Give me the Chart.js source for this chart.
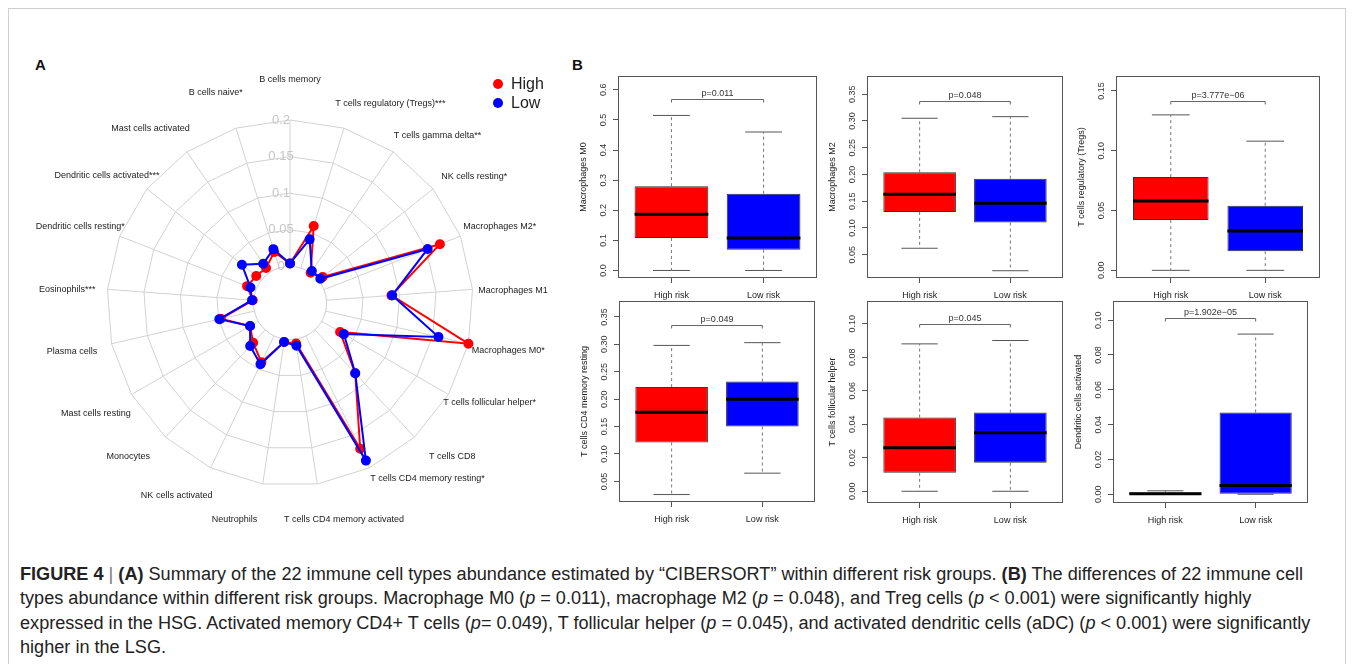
<!DOCTYPE html>
<html>
<head>
<meta charset="utf-8">
<title>Immune cell abundance by risk group</title>
<script src="https://cdn.jsdelivr.net/npm/chart.js@4.4.1/dist/chart.umd.min.js"></script>
<style>
  html, body { margin: 0; padding: 0; background: #fff; }
  body { width: 1352px; height: 664px; position: relative; overflow: hidden;
         font-family: 'Liberation Sans', Arial, Helvetica, sans-serif; }
  #border { position: absolute; left: 8px; top: 8px; width: 1336px; height: 700px;
            border: 1px solid #cfcfcf; }
  canvas { position: absolute; }
  .tag { position: absolute; font-weight: bold; font-size: 15px; color: #111; }
  #caption { position: absolute; left: 20px; top: 562px; color: #222; white-space: nowrap;
             font-family: 'Liberation Sans', Arial, sans-serif;
             font-size: 18px; line-height: 24.3px; transform-origin: 0 0; }
  #caption .sep { color: #777; font-weight: normal; }
</style>
</head>
<body>
<div id="border"></div>
<div class="tag" style="left:35px;top:56px;">A</div>
<div class="tag" style="left:572px;top:56px;">B</div>
<canvas id="radar" width="560" height="530" style="left:0px;top:30px;width:560px;height:530px;"></canvas>
<canvas id="box0"></canvas>
<canvas id="box1"></canvas>
<canvas id="box2"></canvas>
<canvas id="box3"></canvas>
<canvas id="box4"></canvas>
<canvas id="box5"></canvas>
<div id="caption">
  <div><b>FIGURE 4</b> <span class="sep">|</span> <b>(A)</b> Summary of the 22 immune cell types abundance estimated by “CIBERSORT” within different risk groups. <b>(B)</b> The differences of 22 immune cell</div>
  <div>types abundance within different risk groups. Macrophage M0 (<i>p</i> = 0.011), macrophage M2 (<i>p</i> = 0.048), and Treg cells (<i>p</i> &lt; 0.001) were significantly highly</div>
  <div>expressed in the HSG. Activated memory CD4+ T cells (<i>p</i>= 0.049), T follicular helper (<i>p</i> = 0.045), and activated dendritic cells (aDC) (<i>p</i> &lt; 0.001) were significantly</div>
  <div>higher in the LSG.</div>
</div>

<script>
// ---------- Panel A: mean CIBERSORT fractions per risk group ----------
const cellTypes = [
  'B cells memory', 'T cells regulatory (Tregs)***', 'T cells gamma delta**', 'NK cells resting*',
  'Macrophages M2*', 'Macrophages M1', 'Macrophages M0*', 'T cells follicular helper*',
  'T cells CD8', 'T cells CD4 memory resting*', 'T cells CD4 memory activated', 'Neutrophils',
  'NK cells activated', 'Monocytes', 'Mast cells resting', 'Plasma cells', 'Eosinophils***',
  'Dendritic cells resting*', 'Dendritic cells activated***', 'Mast cells activated', 'B cells naive*'
];
const highRiskMean = [0.004, 0.060, 0.000, 0.007, 0.170, 0.089, 0.200, 0.029, 0.081, 0.171, 0.006,
                      0.004, 0.040, 0.024, 0.013, 0.047, 0.001, 0.013, 0.009, 0.008, 0.023];
const lowRiskMean  = [0.004, 0.041, 0.003, 0.003, 0.152, 0.090, 0.158, 0.035, 0.081, 0.189, 0.009,
                      0.004, 0.043, 0.030, 0.013, 0.049, 0.002, 0.008, 0.034, 0.015, 0.027];
const radialTicks = ['0', '0.05', '0.1', '0.15', '0.2'];
const groupNames = ['High', 'Low'];

// ---------- Panel B: box summaries [min, Q1, median, Q3, max] ----------
const boxCells = ['Macrophages M0', 'Macrophages M2', 'T cells regulatory (Tregs)',
                  'T cells CD4 memory resting', 'T cells follicular helper', 'Dendritic cells activated'];
const riskGroups = ['High risk', 'Low risk'];
const highRiskBox = [
  [0.000, 0.108, 0.187, 0.280, 0.515],
  [0.062, 0.130, 0.163, 0.204, 0.305],
  [0.000, 0.042, 0.058, 0.078, 0.130],
  [0.026, 0.121, 0.176, 0.222, 0.298],
  [0.000, 0.011, 0.026, 0.044, 0.088],
  [0.000, 0.000, 0.0003, 0.001, 0.002]
];
const lowRiskBox = [
  [0.000, 0.069, 0.108, 0.255, 0.460],
  [0.020, 0.110, 0.146, 0.192, 0.308],
  [0.000, 0.016, 0.033, 0.054, 0.108],
  [0.065, 0.150, 0.200, 0.232, 0.303],
  [0.000, 0.017, 0.035, 0.047, 0.090],
  [0.000, 0.000, 0.005, 0.047, 0.092]
];
const pLabels = ['p=0.011', 'p=0.048', 'p=3.777e\u221206', 'p=0.049', 'p=0.045', 'p=1.902e\u221205'];
const bracketLevels = [0.569, 0.338, 0.142, 0.335, 0.100, 0.101];
const yTickLabels = [
  ['0.0', '0.1', '0.2', '0.3', '0.4', '0.5', '0.6'],
  ['0.05', '0.10', '0.15', '0.20', '0.25', '0.30', '0.35'],
  ['0.00', '0.05', '0.10', '0.15'],
  ['0.05', '0.10', '0.15', '0.20', '0.25', '0.30', '0.35'],
  ['0.00', '0.02', '0.04', '0.06', '0.08', '0.10'],
  ['0.00', '0.02', '0.04', '0.06', '0.08', '0.10']
];

// ---------- layout / style ----------
const FONT = "'Liberation Sans', Arial, Helvetica, sans-serif";
Chart.defaults.font.family = FONT;
const RED = '#ff0000', BLUE = '#0000ff', GRID_GRAY = '#d2d2d2';

// radar label placement: angular nudge (deg) from each spoke, labels sit at 1.22 x outer radius
const labelNudge = [0, 9.6, 7.1, 4.2, 1.4, 1.2, -0.6, -3.4, -3.8, -12.3, -5.4,
                    5.8, 4.8, 3.6, 0.4, 0.4, -0.7, -1.4, -3.6, -4.4, -2.3];

const radarDecor = {
  id: 'radarDecor',
  beforeDatasetsDraw(chart) {
    const s = chart.scales.r, ctx = chart.ctx;
    const r0 = s.getDistanceFromCenterForValue(0);
    ctx.save();
    // hollow centre below the zero ring
    ctx.beginPath();
    ctx.arc(s.xCenter, s.yCenter, r0, 0, Math.PI * 2);
    ctx.fillStyle = '#fff';
    ctx.fill();
    ctx.strokeStyle = GRID_GRAY;
    ctx.lineWidth = 1;
    ctx.stroke();
    // ring values along the top spoke
    ctx.font = '13px ' + FONT;
    ctx.fillStyle = '#c6c6c6';
    ctx.textAlign = 'center';
    ctx.textBaseline = 'middle';
    radialTicks.forEach(t => {
      const d = s.getDistanceFromCenterForValue(parseFloat(t));
      ctx.fillText(t, s.xCenter - 9, s.yCenter - d);
    });
    ctx.restore();
  },
  afterDraw(chart) {
    const s = chart.scales.r, ctx = chart.ctx;
    ctx.save();
    ctx.font = '9px ' + FONT;
    ctx.fillStyle = '#222';
    ctx.textAlign = 'center';
    ctx.textBaseline = 'middle';
    const dist = s.drawingArea * 1.22;
    cellTypes.forEach((name, i) => {
      const a = s.getIndexAngle(i) - Math.PI / 2 + labelNudge[i] * Math.PI / 180;
      ctx.fillText(name, s.xCenter + Math.cos(a) * dist, s.yCenter + Math.sin(a) * dist);
    });
    // legend
    const lx = s.xCenter + 208, ly = s.yCenter - 219;
    ctx.font = '16px ' + FONT;
    ctx.textAlign = 'left';
    [RED, BLUE].forEach((c, k) => {
      ctx.beginPath();
      ctx.arc(lx, ly + k * 19, 5, 0, Math.PI * 2);
      ctx.fillStyle = c;
      ctx.fill();
      ctx.fillStyle = '#222';
      ctx.fillText(groupNames[k], lx + 13, ly + k * 19 + 1);
    });
    ctx.restore();
  }
};

new Chart(document.getElementById('radar'), {
  type: 'radar',
  data: {
    labels: cellTypes,
    datasets: [
      { label: groupNames[1], data: lowRiskMean, borderColor: BLUE, backgroundColor: BLUE,
        pointBackgroundColor: BLUE, pointBorderColor: BLUE, pointRadius: 4, borderWidth: 2, fill: false },
      { label: groupNames[0], data: highRiskMean, borderColor: RED, backgroundColor: RED,
        pointBackgroundColor: RED, pointBorderColor: RED, pointRadius: 4, borderWidth: 2, fill: false }
    ]
  },
  options: {
    responsive: false, animation: false, events: [], devicePixelRatio: 1,
    layout: { padding: { left: 107, top: 90, right: 87, bottom: 74 } },
    plugins: { legend: { display: false }, tooltip: { enabled: false } },
    elements: { line: { tension: 0 } },
    scales: {
      r: {
        min: -0.05, max: 0.2,
        ticks: { stepSize: 0.05, display: false },
        grid: { circular: false, color: GRID_GRAY, lineWidth: 1 },
        angleLines: { color: GRID_GRAY, lineWidth: 1 },
        pointLabels: { display: false }
      }
    }
  },
  plugins: [radarDecor]
});

// ---------- box plots ----------
// plot-region edges on the page: left, top, right, bottom
const panelFrames = [
  [618, 76, 817, 278], [867, 76, 1063, 278], [1116, 76, 1320, 278],
  [619, 301, 815, 502], [867, 301, 1063, 503], [1113, 301, 1308, 503]
];
const yLimits = [[-0.025, 0.646], [0.0064, 0.384], [-0.0064, 0.1625],
                 [0.0124, 0.379], [-0.007, 0.1136], [-0.005, 0.111]];
const YW = 50, XH = 30, PAD_T = 10, PAD_R = 6, TICK_LEN = 5;
const BOX_HALF = 0.4, STAPLE_HALF = 0.2;
const BOX_FONT = 9;

const measureCtx = document.createElement('canvas').getContext('2d');
measureCtx.font = BOX_FONT + 'px ' + FONT;

function boxDecor(i) {
  return {
    id: 'boxDecor' + i,
    afterDraw(chart) {
      const ctx = chart.ctx, xs = chart.scales.x, ys = chart.scales.y;
      const { left, top, right, bottom } = chart.chartArea;
      ctx.save();
      // plot frame
      ctx.strokeStyle = '#555';
      ctx.lineWidth = 1;
      ctx.strokeRect(left + 0.5, top + 0.5, right - left - 1, bottom - top - 1);
      // significance bracket
      const x1 = xs.getPixelForValue(1), x2 = xs.getPixelForValue(2);
      const yb = Math.round(ys.getPixelForValue(bracketLevels[i])) + 0.5;
      ctx.strokeStyle = '#666';
      ctx.beginPath();
      ctx.moveTo(x1, yb + 3); ctx.lineTo(x1, yb); ctx.lineTo(x2, yb); ctx.lineTo(x2, yb + 3);
      ctx.stroke();
      ctx.font = BOX_FONT + 'px ' + FONT;
      ctx.fillStyle = '#333';
      ctx.textAlign = 'center';
      ctx.textBaseline = 'alphabetic';
      ctx.fillText(pLabels[i], (x1 + x2) / 2, yb - 4);
      ctx.restore();
    }
  };
}

function buildBox(i) {
  const [L, T, R, B] = panelFrames[i];
  const canvas = document.getElementById('box' + i);
  const w = R - L + YW + PAD_R, h = B - T + PAD_T + XH;
  canvas.width = w; canvas.height = h;
  canvas.style.width = w + 'px'; canvas.style.height = h + 'px';
  canvas.style.left = (L - YW) + 'px'; canvas.style.top = (T - PAD_T) + 'px';

  const gap = { x: 1.5, y: null };
  const bars = [], whiskers = [], staples = [], medians = [];
  [highRiskBox[i], lowRiskBox[i]].forEach((b, g) => {
    const x = g + 1;
    const [mn, q1, md, q3, mx] = b;
    bars.push({ x, y: [q1, q3] });
    whiskers.push({ x, y: q3 }, { x, y: mx }, gap, { x, y: q1 }, { x, y: mn }, gap);
    staples.push({ x: x - STAPLE_HALF, y: mx }, { x: x + STAPLE_HALF, y: mx }, gap,
                 { x: x - STAPLE_HALF, y: mn }, { x: x + STAPLE_HALF, y: mn }, gap);
    medians.push({ x: x - BOX_HALF, y: md }, { x: x + BOX_HALF, y: md }, gap);
  });

  const labels = yTickLabels[i];
  const widest = Math.max(...labels.map(t => measureCtx.measureText(t).width));
  const tickPad = 14 - TICK_LEN - widest / 2;

  const chart = new Chart(canvas, {
    type: 'bar',
    data: {
      datasets: [
        { type: 'line', data: medians, borderColor: '#000', borderWidth: 3, pointRadius: 0,
          borderCapStyle: 'butt', spanGaps: false, order: 0 },
        { type: 'bar', data: bars, backgroundColor: [RED, BLUE], borderColor: '#333', borderWidth: 1,
          borderSkipped: false, categoryPercentage: 0.8, barPercentage: 1, order: 1 },
        { type: 'line', data: whiskers, borderColor: '#777', borderWidth: 1, borderDash: [3, 3],
          pointRadius: 0, spanGaps: false, order: 2 },
        { type: 'line', data: staples, borderColor: '#555', borderWidth: 1, pointRadius: 0,
          spanGaps: false, order: 2 }
      ]
    },
    options: {
      responsive: false, animation: false, events: [], devicePixelRatio: 1,
      layout: { padding: { top: PAD_T, right: PAD_R, left: 0, bottom: 0 } },
      plugins: { legend: { display: false }, tooltip: { enabled: false } },
      scales: {
        x: {
          type: 'linear', min: 0.42, max: 2.58, offset: false,
          afterBuildTicks: s => { s.ticks = [{ value: 1 }, { value: 2 }]; },
          afterFit: s => { s.height = XH; },
          ticks: { callback: v => riskGroups[Math.round(v) - 1], font: { size: BOX_FONT }, color: '#222',
                   padding: 7, maxRotation: 0, autoSkip: false },
          grid: { drawOnChartArea: false, drawTicks: true, tickLength: TICK_LEN, color: '#555', offset: false },
          border: { display: false }
        },
        y: {
          type: 'linear', min: yLimits[i][0], max: yLimits[i][1],
          afterBuildTicks: s => { s.ticks = labels.map(t => ({ value: parseFloat(t) })); },
          afterFit: s => { s.width = YW; },
          ticks: { callback: (v, k) => labels[k], font: { size: BOX_FONT }, color: '#333',
                   minRotation: 90, maxRotation: 90, crossAlign: 'center', padding: tickPad, autoSkip: false },
          grid: { drawOnChartArea: false, drawTicks: true, tickLength: TICK_LEN, color: '#555' },
          border: { display: false },
          title: { display: true, text: boxCells[i], font: { size: BOX_FONT }, color: '#222',
                   padding: { top: 10.6, bottom: 0 } }
        }
      }
    },
    plugins: [boxDecor(i)]
  });
  // keep the plot region on its frame
  canvas.style.left = (L - chart.chartArea.left) + 'px';
  canvas.style.top = (T - chart.chartArea.top) + 'px';
}
for (let i = 0; i < boxCells.length; i++) buildBox(i);

// caption lines share one horizontal scale so the first line spans the figure width
const cap = document.getElementById('caption');
const firstLine = cap.firstElementChild;
const range = document.createRange();
range.selectNodeContents(firstLine);
const lineW = range.getBoundingClientRect().width;
cap.style.transform = 'scaleX(' + (1283 / lineW) + ')';
</script>
</body>
</html>
